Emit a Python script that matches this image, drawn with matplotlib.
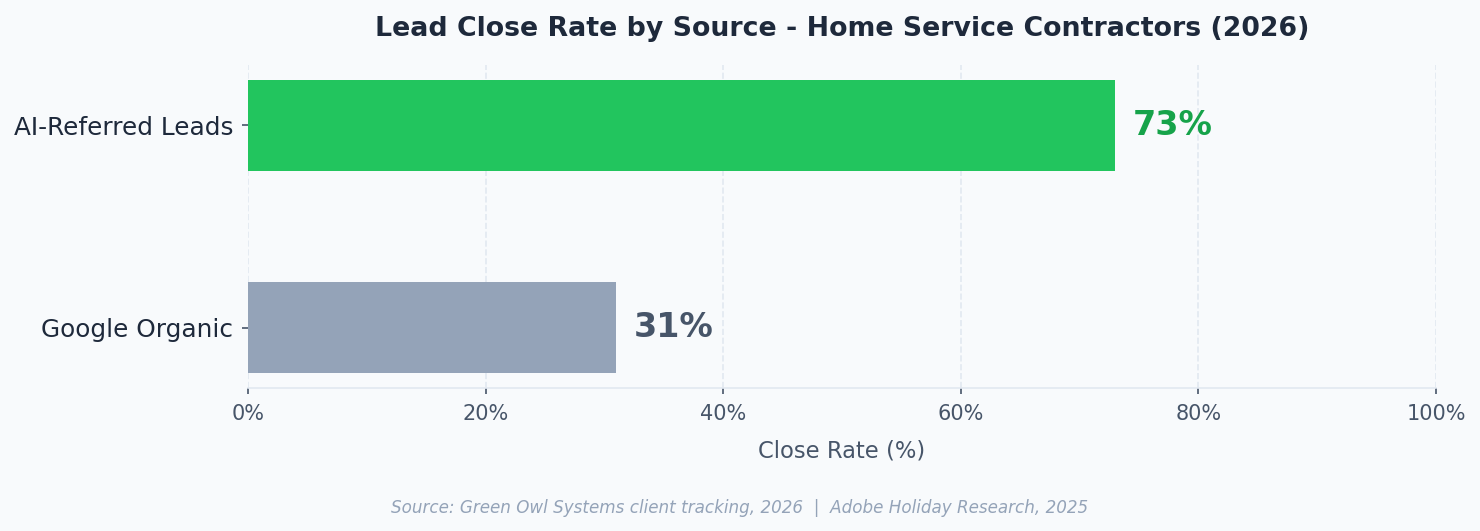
import matplotlib
matplotlib.use("Agg")
import matplotlib.pyplot as plt
from matplotlib.ticker import FuncFormatter

plt.rcParams["font.family"] = ["DejaVu Sans"]

# data
sources = ["Google Organic", "AI-Referred Leads"]
close_rates = [31, 73]
bar_colors = ["#94a3b8", "#22c55e"]
label_colors = ["#475569", "#16a34a"]

bg = "#f8fafc"

fig = plt.figure(figsize=(14.8, 5.31), dpi=100, facecolor=bg)
ax = fig.add_axes([0.1676, 0.2693, 0.8027, 0.6083], facecolor=bg)

ax.barh(sources, close_rates, height=0.45, color=bar_colors, zorder=3)

for i, v in enumerate(close_rates):
    ax.text(v + 1.5, i, f"{v}%", va="center", ha="left",
            fontsize=24, fontweight="bold", color=label_colors[i])

ax.set_xlim(0, 100)
ax.set_xticks(range(0, 101, 20))
ax.xaxis.set_major_formatter(FuncFormatter(lambda x, p: f"{x:.0f}%"))
ax.grid(axis="x", linestyle="--", color="#e2e8f0", linewidth=1.2, zorder=0)
ax.set_axisbelow(True)

for s in ["top", "right", "left"]:
    ax.spines[s].set_visible(False)
ax.spines["bottom"].set_color("#e2e8f0")
ax.spines["bottom"].set_linewidth(1.2)

ax.tick_params(axis="x", labelsize=15, colors="#475569", length=4.5, width=1.2, pad=7)
ax.tick_params(axis="y", labelsize=17.8, labelcolor="#1e293b", color="#475569",
               length=4.5, width=1.2, pad=6.2)

ax.set_xlabel("Close Rate (%)", fontsize=16.3, color="#475569", labelpad=11)
ax.set_title("Lead Close Rate by Source - Home Service Contractors (2026)",
             fontsize=19.3, fontweight="bold", color="#1e293b", pad=21)

fig.text(0.5, 0.033, "Source: Green Owl Systems client tracking, 2026  |  Adobe Holiday Research, 2025",
         ha="center", fontsize=12.1, style="italic", color="#94a3b8")

fig.savefig("out.png", dpi=100, facecolor=bg)
